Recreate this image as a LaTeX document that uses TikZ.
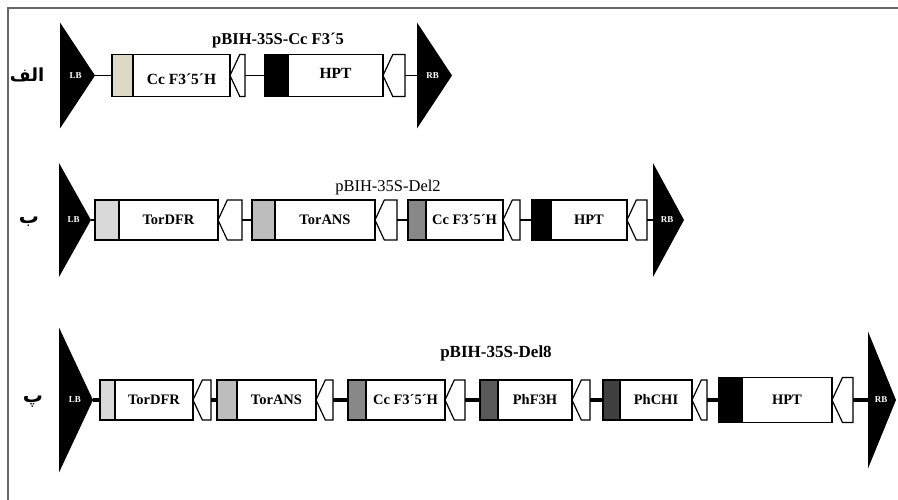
\documentclass[tikz,border=0pt]{standalone}
\usepackage{fontspec}
\setmainfont{Liberation Serif}
\newfontfamily\arabicfont[Script=Arabic]{DejaVu Sans}
\TeXXeTstate=1
\usetikzlibrary{shapes.geometric,shapes.symbols}

\definecolor{promBeige}{HTML}{DCDAC4}
\definecolor{promLight}{HTML}{D9D9D9}
\definecolor{promMid}{HTML}{BDBDBD}
\definecolor{promDark}{HTML}{888888}
\definecolor{promDarker}{HTML}{5A5A5A}
\definecolor{promDarkest}{HTML}{404040}

\tikzset{
	frame/.style = {draw = black!60, line width = 1.5pt},
	border/.style = {isosceles triangle, isosceles triangle stretches, fill = black, inner sep = 0pt, outer sep = 0pt, anchor = lower side, text = white, font = \bfseries\fontsize{9}{9}\selectfont},
	prom/.style = {draw, line width = 1.2pt, rectangle, inner sep = 0pt, outer sep = 0pt, anchor = west},
	gene/.style = {draw, line width = 1.2pt, fill = white, rectangle, inner sep = 0pt, outer sep = 0pt, anchor = west, font = \bfseries\fontsize{14.5}{14.5}\selectfont},
	term/.style = {draw, line width = 1.2pt, fill = white, signal, signal to = west, signal pointer angle = 130, inner sep = 0pt, outer sep = 0pt, anchor = west},
	link/.style = {line width = 1.5pt},
	thicklink/.style = {line width = 3.5pt},
	title/.style = {font = \fontsize{16.5}{16.5}\selectfont},
	rowtag/.style = {font = \arabicfont\bfseries\fontsize{20}{20}\selectfont}
}

\begin{document}
\begin{tikzpicture}[x = 1pt, y = -1pt]

\useasboundingbox (0,0) rectangle (898,500);
\draw[frame] (8,500) -- (8,8) -- (898,8);

% first construct
\node[rowtag, font = \arabicfont\bfseries\fontsize{18}{18}\selectfont] (tag1) at (27,75) {\beginR الف\endR};
\node[title, font = \bfseries\fontsize{16.5}{16.5}\selectfont] (name1) at (278,41) {pBIH-35S-Cc F3´5};
\node[border, minimum height = 35, minimum width = 106] (LB1) at (60,75.5) {LB};
\node[border, minimum height = 35, minimum width = 106] (RB1) at (417,75.5) {RB};

\foreach \x/\pw/\pc/\gw/\gname/\tw/\tht/\tdp [count = \i] in {112/21/promBeige/97/Cc F3´5´H/15/18/0, 265/23/black/95/HPT/22/10/4} {
	\node[prom, fill = \pc, minimum width = \pw, minimum height = 42] (P1\i) at (\x,75.5) {};
	\node[gene, minimum width = \gw, minimum height = 42, text height = \tht pt, text depth = \tdp pt, font = \bfseries\fontsize{15.5}{15.5}\selectfont] (G1\i) at (P1\i.east) {\gname};
	\node[term, minimum width = \tw, minimum height = 42] (T1\i) at (G1\i.east) {};
}

\draw[link] (LB1.apex) -- (P11.west);
\draw[link] (T11.east) -- (P12.west);
\draw[link] (T12.east) -- (RB1.lower side);

% second construct
\node[rowtag] (tag2) at (29,222) {\beginR ب\endR};
\node[title] (name2) at (388,188) {pBIH-35S-Del2};
\node[border, minimum height = 32, minimum width = 114] (LB2) at (59,220) {LB};
\node[border, minimum height = 31, minimum width = 114] (RB2) at (653,220) {RB};

\foreach \x/\pw/\pc/\gw/\gname/\tw [count = \i] in {95/24/promLight/99/TorDFR/24, 252/23/promMid/100/TorANS/22, 408/18/promDark/77/Cc F3´5´H/17, 532/19/black/76/HPT/20} {
	\node[prom, fill = \pc, minimum width = \pw, minimum height = 40] (P2\i) at (\x,220) {};
	\node[gene, minimum width = \gw, minimum height = 40] (G2\i) at (P2\i.east) {\gname};
	\node[term, minimum width = \tw, minimum height = 40] (T2\i) at (G2\i.east) {};
}

\draw[link] (LB2.apex) -- (P21.west);
\foreach \i in {1,2,3} {
	\pgfmathtruncatemacro{\j}{\i + 1}
	\draw[link] (T2\i.east) -- (P2\j.west);
}
\draw[link] (T24.east) -- (RB2.lower side);

% third construct
\node[rowtag] (tag3) at (33,402) {\beginR پ\endR};
\node[title, font = \bfseries\fontsize{17}{17}\selectfont] (name3) at (496,353) {pBIH-35S-Del8};
\node[border, minimum height = 34, minimum width = 145] (LB3) at (59,400) {LB};
\node[border, minimum height = 28, minimum width = 137] (RB3) at (868,400) {RB};

\foreach \x/\pw/\pc/\gw/\gname/\tw/\h [count = \i] in {100/15/promLight/78/TorDFR/18/40, 217/20/promMid/79/TorANS/17/40, 348/18/promDark/79/Cc F3´5´H/20/40, 480/18/promDarker/74/PhF3H/18/40, 603/17/promDarkest/72/PhCHI/15/40, 719/23/black/90/HPT/21/45} {
	\node[prom, fill = \pc, minimum width = \pw, minimum height = \h] (P3\i) at (\x,400) {};
	\node[gene, minimum width = \gw, minimum height = \h] (G3\i) at (P3\i.east) {\gname};
	\node[term, minimum width = \tw, minimum height = \h] (T3\i) at (G3\i.east) {};
}

\draw[thicklink] (LB3.apex) -- (P31.west);
\foreach \i in {1,...,5} {
	\pgfmathtruncatemacro{\j}{\i + 1}
	\draw[thicklink] (T3\i.east) -- (P3\j.west);
}
\draw[thicklink] (T36.east) -- (RB3.lower side);

\end{tikzpicture}
\end{document}
